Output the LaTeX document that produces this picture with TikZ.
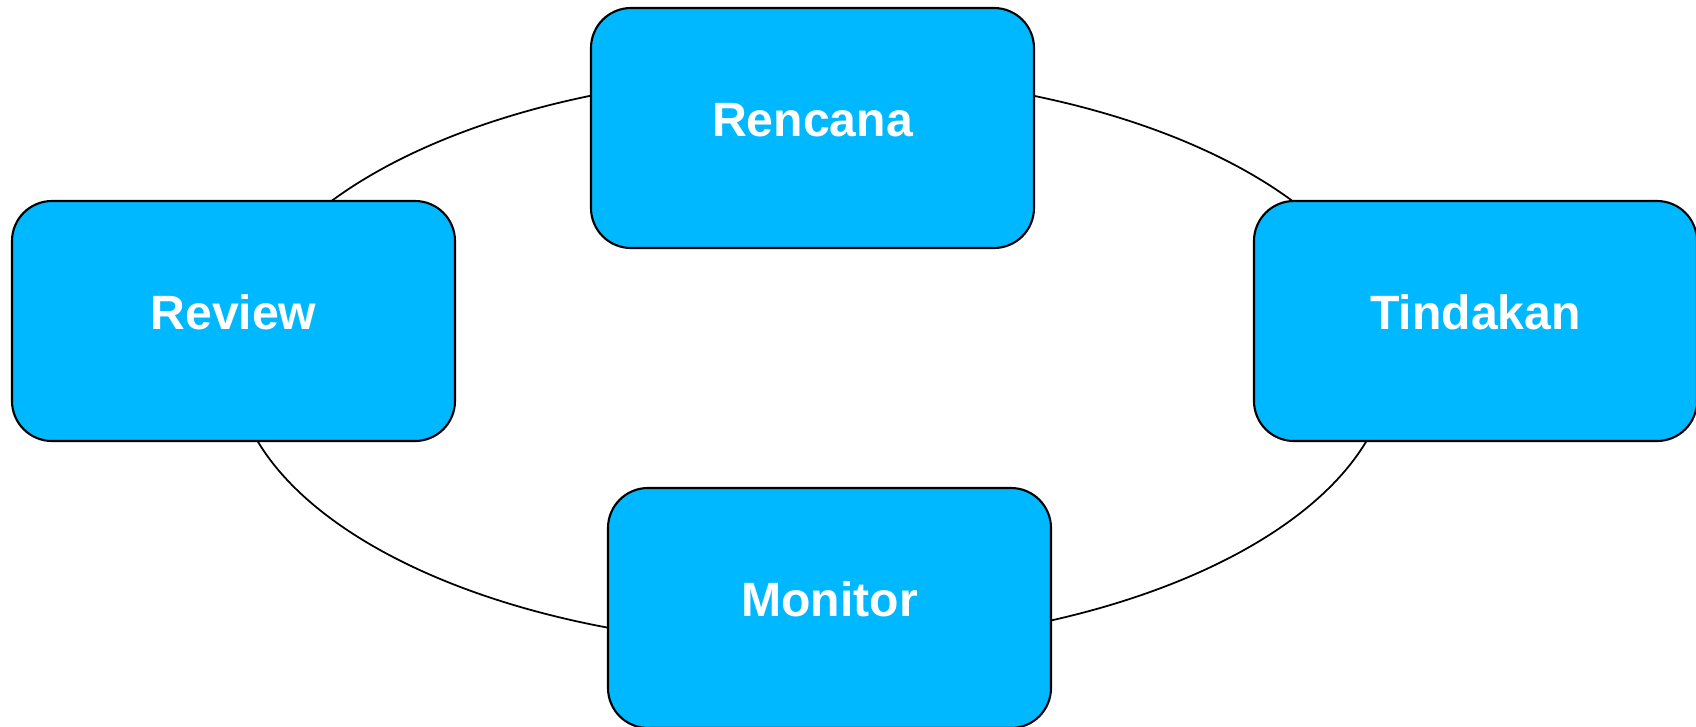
\documentclass[tikz,border=0pt]{standalone}
\usepackage{fontspec}
\setmainfont{Liberation Sans}
\usepackage{tikz}
\usetikzlibrary{calc}
\definecolor{stageblue}{RGB}{0,184,255}
\tikzset{
  stage/.style={
    rectangle,
    draw=black,
    fill=stageblue,
    rounded corners=4mm,
    line width=0.6pt,
    minimum width=44.3mm,
    minimum height=24mm,
    inner sep=0pt,
    text=white,
    text height=3.6mm,
    text depth=2mm,
    font=\fontsize{13.7}{17}\selectfont\bfseries
  },
  ring/.style={
    draw=black,
    line width=0.5pt
  }
}

\begin{document}
\begin{tikzpicture}
  % Same size as the reference
  \useasboundingbox (0,0) rectangle (16.96,7.26);
  % \draw[help lines, step=0.5] (0,0) grid (16.96,7.26);

  % Cycle behind the stages
  \coordinate (mid) at (8.12,3.66);
  \draw[ring] (mid) ellipse [x radius=5.78, y radius=2.86];

  % Stages
  \node[stage] (rencana)  at (8.125,5.98) {Rencana};
  \node[stage] (tindakan) at (14.755,4.05) {Tindakan};
  \node[stage] (monitor)  at (8.295,1.18) {Monitor};
  \node[stage] (review)   at (2.335,4.05) {Review};
\end{tikzpicture}
\end{document}
